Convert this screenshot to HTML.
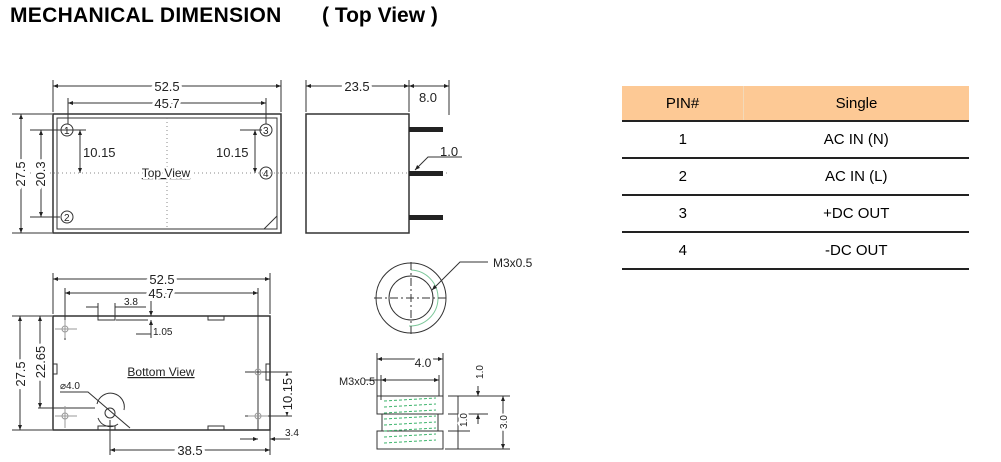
<!DOCTYPE html>
<html><head><style>
body{margin:0;background:#fff;width:1001px;height:462px;overflow:hidden;font-family:"Liberation Sans",Arial,sans-serif;position:relative}
.t{position:absolute;top:4px;font-weight:bold;font-size:21px;color:#000}
table{position:absolute;left:622px;top:86px;width:347px;border-collapse:collapse;font-size:15px}
td{height:35px;text-align:center;border-bottom:2px solid #222;padding:0}
tr.h td{background:#fdc995;border-bottom:2px solid #222;height:34px}
</style></head><body>
<div class="t" style="left:10px;letter-spacing:0.3px">MECHANICAL DIMENSION</div>
<div class="t" style="left:322px">( Top View )</div>
<table>
<tr class="h"><td style="width:121px;border-right:1px solid #f3d9b8">PIN#</td><td>Single</td></tr>
<tr><td>1</td><td>AC IN (N)</td></tr>
<tr><td>2</td><td>AC IN (L)</td></tr>
<tr><td>3</td><td>+DC OUT</td></tr>
<tr><td>4</td><td>-DC OUT</td></tr>
</table>
<svg width="1001" height="462" style="position:absolute;left:0;top:0" font-family="Liberation Sans,Arial,sans-serif">
<defs><marker id="a" viewBox="0 0 10 10" refX="10" refY="5" markerWidth="5" markerHeight="5" orient="auto-start-reverse"><path d="M0,1L10,5L0,9z" fill="#222"/></marker></defs>
<g stroke="#333" stroke-width="1" fill="none">
<rect x="53" y="114" width="228" height="119" stroke-width="1.5"/>
<rect x="57" y="118" width="220" height="111"/>
<line x1="264" y1="229" x2="277" y2="216"/>
<line x1="53" y1="80" x2="53" y2="112"/><line x1="281" y1="80" x2="281" y2="112"/>
<line x1="53" y1="86" x2="281" y2="86" marker-start="url(#a)" marker-end="url(#a)"/>
<line x1="68" y1="98" x2="68" y2="124"/><line x1="266" y1="98" x2="266" y2="124"/>
<line x1="68" y1="103" x2="266" y2="103" marker-start="url(#a)" marker-end="url(#a)"/>
<line x1="12" y1="114" x2="52" y2="114"/><line x1="12" y1="233" x2="52" y2="233"/>
<line x1="21" y1="114" x2="21" y2="233" marker-start="url(#a)" marker-end="url(#a)"/>
<line x1="30" y1="130" x2="86" y2="130"/><line x1="30" y1="217" x2="60" y2="217"/>
<line x1="41" y1="130" x2="41" y2="217" marker-start="url(#a)" marker-end="url(#a)"/>
<line x1="80" y1="130" x2="80" y2="173" marker-start="url(#a)" marker-end="url(#a)"/>
<line x1="240" y1="130" x2="262" y2="130"/>
<line x1="255" y1="130" x2="255" y2="173" marker-start="url(#a)" marker-end="url(#a)"/>
<line x1="30" y1="173" x2="450" y2="173" stroke-dasharray="1,3" stroke="#888"/>
<line x1="167" y1="118" x2="167" y2="229" stroke-dasharray="1,3" stroke="#888"/>
<circle cx="67" cy="130" r="6"/><circle cx="266" cy="130" r="6"/><circle cx="266" cy="173" r="6"/><circle cx="67" cy="217" r="6"/>
<rect x="306" y="114" width="103" height="119" stroke-width="1.5"/>
<line x1="306" y1="80" x2="306" y2="112"/><line x1="409" y1="80" x2="409" y2="112"/><line x1="449" y1="80" x2="449" y2="115"/>
<line x1="306" y1="86" x2="409" y2="86" marker-start="url(#a)" marker-end="url(#a)"/>
<line x1="409" y1="86" x2="449" y2="86" marker-start="url(#a)" marker-end="url(#a)"/>
<polyline points="462,157 428,157 415,170" marker-end="url(#a)"/>
<rect x="53" y="316" width="217" height="114" stroke-width="1.5"/>
<rect x="98" y="316" width="17" height="4"/><rect x="208" y="316" width="16" height="4"/>
<rect x="98" y="426" width="17" height="4"/><rect x="208" y="426" width="16" height="4"/>
<rect x="53" y="364" width="4" height="10"/><rect x="266" y="364" width="4" height="16"/>
<line x1="53" y1="273" x2="53" y2="314"/><line x1="270" y1="273" x2="270" y2="314"/>
<line x1="53" y1="279" x2="270" y2="279" marker-start="url(#a)" marker-end="url(#a)"/>
<line x1="65" y1="288" x2="65" y2="340"/><line x1="258" y1="288" x2="258" y2="430"/>
<line x1="65" y1="293" x2="258" y2="293" marker-start="url(#a)" marker-end="url(#a)"/>
<line x1="86" y1="307" x2="98" y2="307"/><line x1="115" y1="307" x2="146" y2="307"/>
<line x1="98" y1="303" x2="98" y2="316"/><line x1="115" y1="303" x2="115" y2="316"/>
<line x1="151" y1="300" x2="151" y2="316" marker-end="url(#a)"/>
<line x1="151" y1="338" x2="151" y2="320" marker-end="url(#a)"/>
<line x1="116" y1="320" x2="148" y2="320"/><polyline points="136,334 151,334 151,330"/>
<line x1="12" y1="316" x2="52" y2="316"/><line x1="12" y1="430" x2="52" y2="430"/>
<line x1="20" y1="316" x2="20" y2="430" marker-start="url(#a)" marker-end="url(#a)"/>
<line x1="40" y1="316" x2="40" y2="408" marker-start="url(#a)" marker-end="url(#a)"/>
<line x1="38" y1="408" x2="95" y2="408"/>
<line x1="245" y1="372" x2="292" y2="372"/><line x1="245" y1="416" x2="292" y2="416"/>
<line x1="287" y1="372" x2="287" y2="416" marker-start="url(#a)" marker-end="url(#a)"/>
<line x1="240" y1="439" x2="258" y2="439" marker-end="url(#a)"/><line x1="290" y1="439" x2="270" y2="439" marker-end="url(#a)"/>
<line x1="110" y1="420" x2="110" y2="455"/><line x1="270" y1="430" x2="270" y2="455"/>
<line x1="110" y1="450" x2="270" y2="450" marker-start="url(#a)" marker-end="url(#a)"/>
<polyline points="60,392 88,392 130,428"/>
<circle cx="110" cy="413" r="5"/>
<path d="M97,404 A13,13 0 0 1 124,410"/><path d="M98,418 A13,13 0 0 0 118,424"/>
<g stroke="#999"><circle cx="65" cy="329" r="3"/><circle cx="65" cy="416" r="3"/><circle cx="258" cy="372" r="3"/><circle cx="258" cy="416" r="3"/>
<line x1="55" y1="329" x2="77" y2="329"/><line x1="65" y1="320" x2="65" y2="338"/>
<line x1="55" y1="416" x2="77" y2="416"/><line x1="65" y1="406" x2="65" y2="428"/>
<line x1="248" y1="416" x2="268" y2="416"/></g>
<circle cx="411" cy="298" r="35"/><circle cx="411" cy="298" r="22"/>
<path d="M411,270 A28,28 0 1 1 409,326" stroke="#7cc89a"/>
<line x1="374" y1="298" x2="448" y2="298" stroke-dasharray="8,3,2,3"/>
<line x1="411" y1="262" x2="411" y2="334" stroke-dasharray="8,3,2,3"/>
<polyline points="488,262 460,262 432,290" marker-end="url(#a)"/>
<rect x="377" y="396" width="66" height="18"/><rect x="382" y="414" width="56" height="17"/><rect x="377" y="431" width="66" height="18"/>
<g stroke="#3bb36a" stroke-dasharray="3,2"><path d="M384,401 L436,398 M384,407 L436,404 M384,413 L436,410 M384,419 L436,416 M384,425 L436,422 M384,431 L436,428 M384,437 L436,434 M384,443 L436,440"/></g>
<line x1="377" y1="353" x2="377" y2="396"/><line x1="443" y1="353" x2="443" y2="396"/>
<line x1="377" y1="359" x2="443" y2="359" marker-start="url(#a)" marker-end="url(#a)"/>
<line x1="381" y1="375" x2="381" y2="400"/><line x1="439" y1="375" x2="439" y2="396"/>
<line x1="381" y1="380" x2="439" y2="380" marker-start="url(#a)" marker-end="url(#a)"/>
<line x1="365" y1="380" x2="381" y2="380"/>
<line x1="448" y1="396" x2="510" y2="396"/><line x1="448" y1="414" x2="488" y2="414"/><line x1="448" y1="431" x2="470" y2="431"/><line x1="445" y1="449" x2="510" y2="449"/>
<line x1="458" y1="396" x2="458" y2="449"/>
<line x1="478" y1="386" x2="478" y2="396" marker-end="url(#a)"/><line x1="478" y1="424" x2="478" y2="414" marker-end="url(#a)"/>
<line x1="503" y1="396" x2="503" y2="449" marker-start="url(#a)" marker-end="url(#a)"/>
</g>
<g fill="#222" stroke="none">
<rect x="409" y="127" width="34" height="5"/><rect x="409" y="171" width="34" height="5"/><rect x="409" y="215" width="34" height="5"/>
</g>
<g font-size="13" fill="#222">
<text x="167" y="91" text-anchor="middle" style="paint-order:stroke" stroke="#fff" stroke-width="6">52.5</text>
<text x="167" y="108" text-anchor="middle" style="paint-order:stroke" stroke="#fff" stroke-width="6">45.7</text>
<text x="83" y="157">10.15</text><text x="216" y="157">10.15</text>
<text x="166" y="177" text-anchor="middle" font-size="12" text-decoration="underline" style="paint-order:stroke" stroke="#fff" stroke-width="4">Top View</text>
<text x="357" y="91" text-anchor="middle" style="paint-order:stroke" stroke="#fff" stroke-width="6">23.5</text>
<text x="428" y="102" text-anchor="middle">8.0</text>
<text x="440" y="156">1.0</text>
<text transform="translate(25,174) rotate(-90)" text-anchor="middle" style="paint-order:stroke" stroke="#fff" stroke-width="6">27.5</text>
<text transform="translate(45,174) rotate(-90)" text-anchor="middle" style="paint-order:stroke" stroke="#fff" stroke-width="6">20.3</text>
<text x="162" y="284" text-anchor="middle" style="paint-order:stroke" stroke="#fff" stroke-width="6">52.5</text>
<text x="161" y="298" text-anchor="middle" style="paint-order:stroke" stroke="#fff" stroke-width="6">45.7</text>
<text x="161" y="376" text-anchor="middle" font-size="12" text-decoration="underline">Bottom View</text>
<text transform="translate(25,374) rotate(-90)" text-anchor="middle" style="paint-order:stroke" stroke="#fff" stroke-width="6">27.5</text>
<text transform="translate(45,362) rotate(-90)" text-anchor="middle" style="paint-order:stroke" stroke="#fff" stroke-width="6">22.65</text>
<text transform="translate(292,394) rotate(-90)" text-anchor="middle" style="paint-order:stroke" stroke="#fff" stroke-width="6">10.15</text>
<text x="190" y="455" text-anchor="middle" style="paint-order:stroke" stroke="#fff" stroke-width="6">38.5</text>
<text x="423" y="367" text-anchor="middle" font-size="12" style="paint-order:stroke" stroke="#fff" stroke-width="6">4.0</text>
<text x="493" y="267" font-size="12">M3x0.5</text>
<text x="339" y="385" font-size="11">M3x0.5</text>
</g>
<g font-size="10" fill="#222">
<text x="124" y="305">3.8</text><text x="153" y="335">1.05</text><text x="285" y="436">3.4</text>
<text x="60" y="389">⌀4.0</text>
<text x="64" y="134">1</text><text x="263" y="134">3</text><text x="263" y="177">4</text><text x="64" y="221">2</text>
<text transform="translate(467,420) rotate(-90)" text-anchor="middle" style="paint-order:stroke" stroke="#fff" stroke-width="4">1.0</text>
<text transform="translate(483,372) rotate(-90)" text-anchor="middle">1.0</text>
<text transform="translate(507,422) rotate(-90)" text-anchor="middle" style="paint-order:stroke" stroke="#fff" stroke-width="4">3.0</text>
</g>
</svg>
</body></html>
